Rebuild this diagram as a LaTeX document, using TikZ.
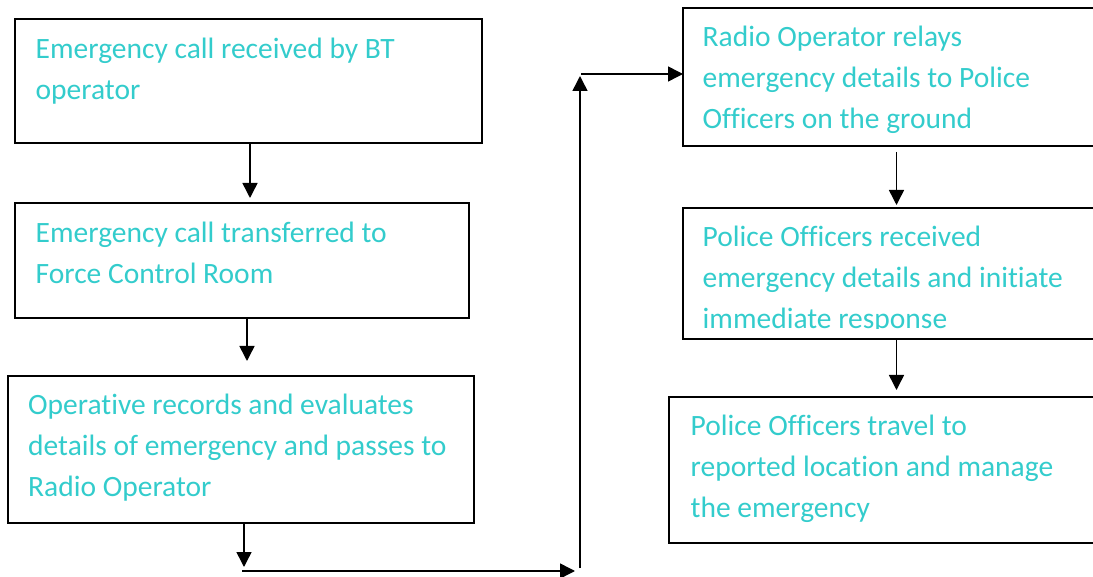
\documentclass[tikz,border=0pt]{standalone}
\usepackage{fontspec}
\setmainfont{Carlito}[Ligatures=NoCommon]
\usetikzlibrary{arrows.meta}
\definecolor{turq}{RGB}{51,204,204}
\begin{document}
\begin{tikzpicture}[x=1pt,y=-1pt]
	\tikzstyle{box} = [draw, line width=2pt, shape=rectangle, inner sep=0, outer sep=0, anchor=north west]
	\tikzstyle{txt} = [text=turq, font=\fontsize{29.5}{41}\selectfont, align=left, inner sep=0, anchor=north west]
	\tikzstyle{arr} = [line width=1.5pt, -{Triangle[length=15pt,width=15pt]}]
	\useasboundingbox (0,0) rectangle (1093,577);
	% boxes
	\node[box, minimum width=467pt, minimum height=124pt] (boxA) at (15,19) {};
	\node[box, minimum width=454pt, minimum height=115pt] (boxB) at (15,203) {};
	\node[box, minimum width=466pt, minimum height=147pt] (boxC) at (8,376) {};
	\node[box, minimum width=427pt, minimum height=138pt] (boxD) at (683,8) {};
	\node[box, minimum width=427pt, minimum height=131pt] (boxE) at (683,208) {};
	\node[box, minimum width=441pt, minimum height=146pt] (boxF) at (669,397) {};
	% texts
	\node[txt] (aText) at ([xshift=20.5pt,yshift=-10.3pt]boxA.north west)
		{\strut Emergency call received by BT\\operator};
	\node[txt] (bText) at ([xshift=20.5pt,yshift=-10.3pt]boxB.north west)
		{\strut Emergency call transferred to\\Force Control Room};
	\node[txt] (cText) at ([xshift=20pt,yshift=-9.3pt]boxC.north west)
		{\strut Operative records and evaluates\\details of emergency and passes to\\Radio Operator};
	\node[txt] (dText) at ([xshift=19.5pt,yshift=-9.3pt]boxD.north west)
		{\strut Radio Operator relays\\emergency details to Police\\Officers on the ground};
	\begin{scope}
		\clip (boxE.north west) rectangle ([yshift=10pt]boxE.south east);
		\node[txt] (eText) at ([xshift=19.5pt,yshift=-9.3pt]boxE.north west)
			{\strut Police Officers received\\emergency details and initiate\\immediate response};
	\end{scope}
	\node[txt] (fText) at ([xshift=21.5pt,yshift=-9.3pt]boxF.north west)
		{\strut Police Officers travel to\\reported location and manage\\the emergency};
	% connectors
	\coordinate (cDown) at (244,567);
	\coordinate (botL) at (242,571);
	\coordinate (botR) at (575,571);
	\coordinate (upBot) at (580,568);
	\coordinate (upTop) at (580,76);
	\coordinate (topL) at (581,74);
	\draw[arr] ([xshift=1.5pt]boxA.south) -- ([xshift=8pt,yshift=5pt]boxB.north);
	\draw[arr] ([xshift=5pt]boxB.south) -- ([xshift=6pt,yshift=15pt]boxC.north);
	\draw[arr] ([xshift=3pt]boxC.south) -- (cDown);
	\draw[arr] (botL) -- (botR);
	\draw[arr] (upBot) -- (upTop);
	\draw[arr] (topL) -- ([yshift=3pt]boxD.west);
	\draw[arr] ([yshift=-6pt]boxD.south) -- ([yshift=3pt]boxE.north);
	\draw[arr] (boxE.south) -- ([xshift=7pt,yshift=7pt]boxF.north);
\end{tikzpicture}
\end{document}
